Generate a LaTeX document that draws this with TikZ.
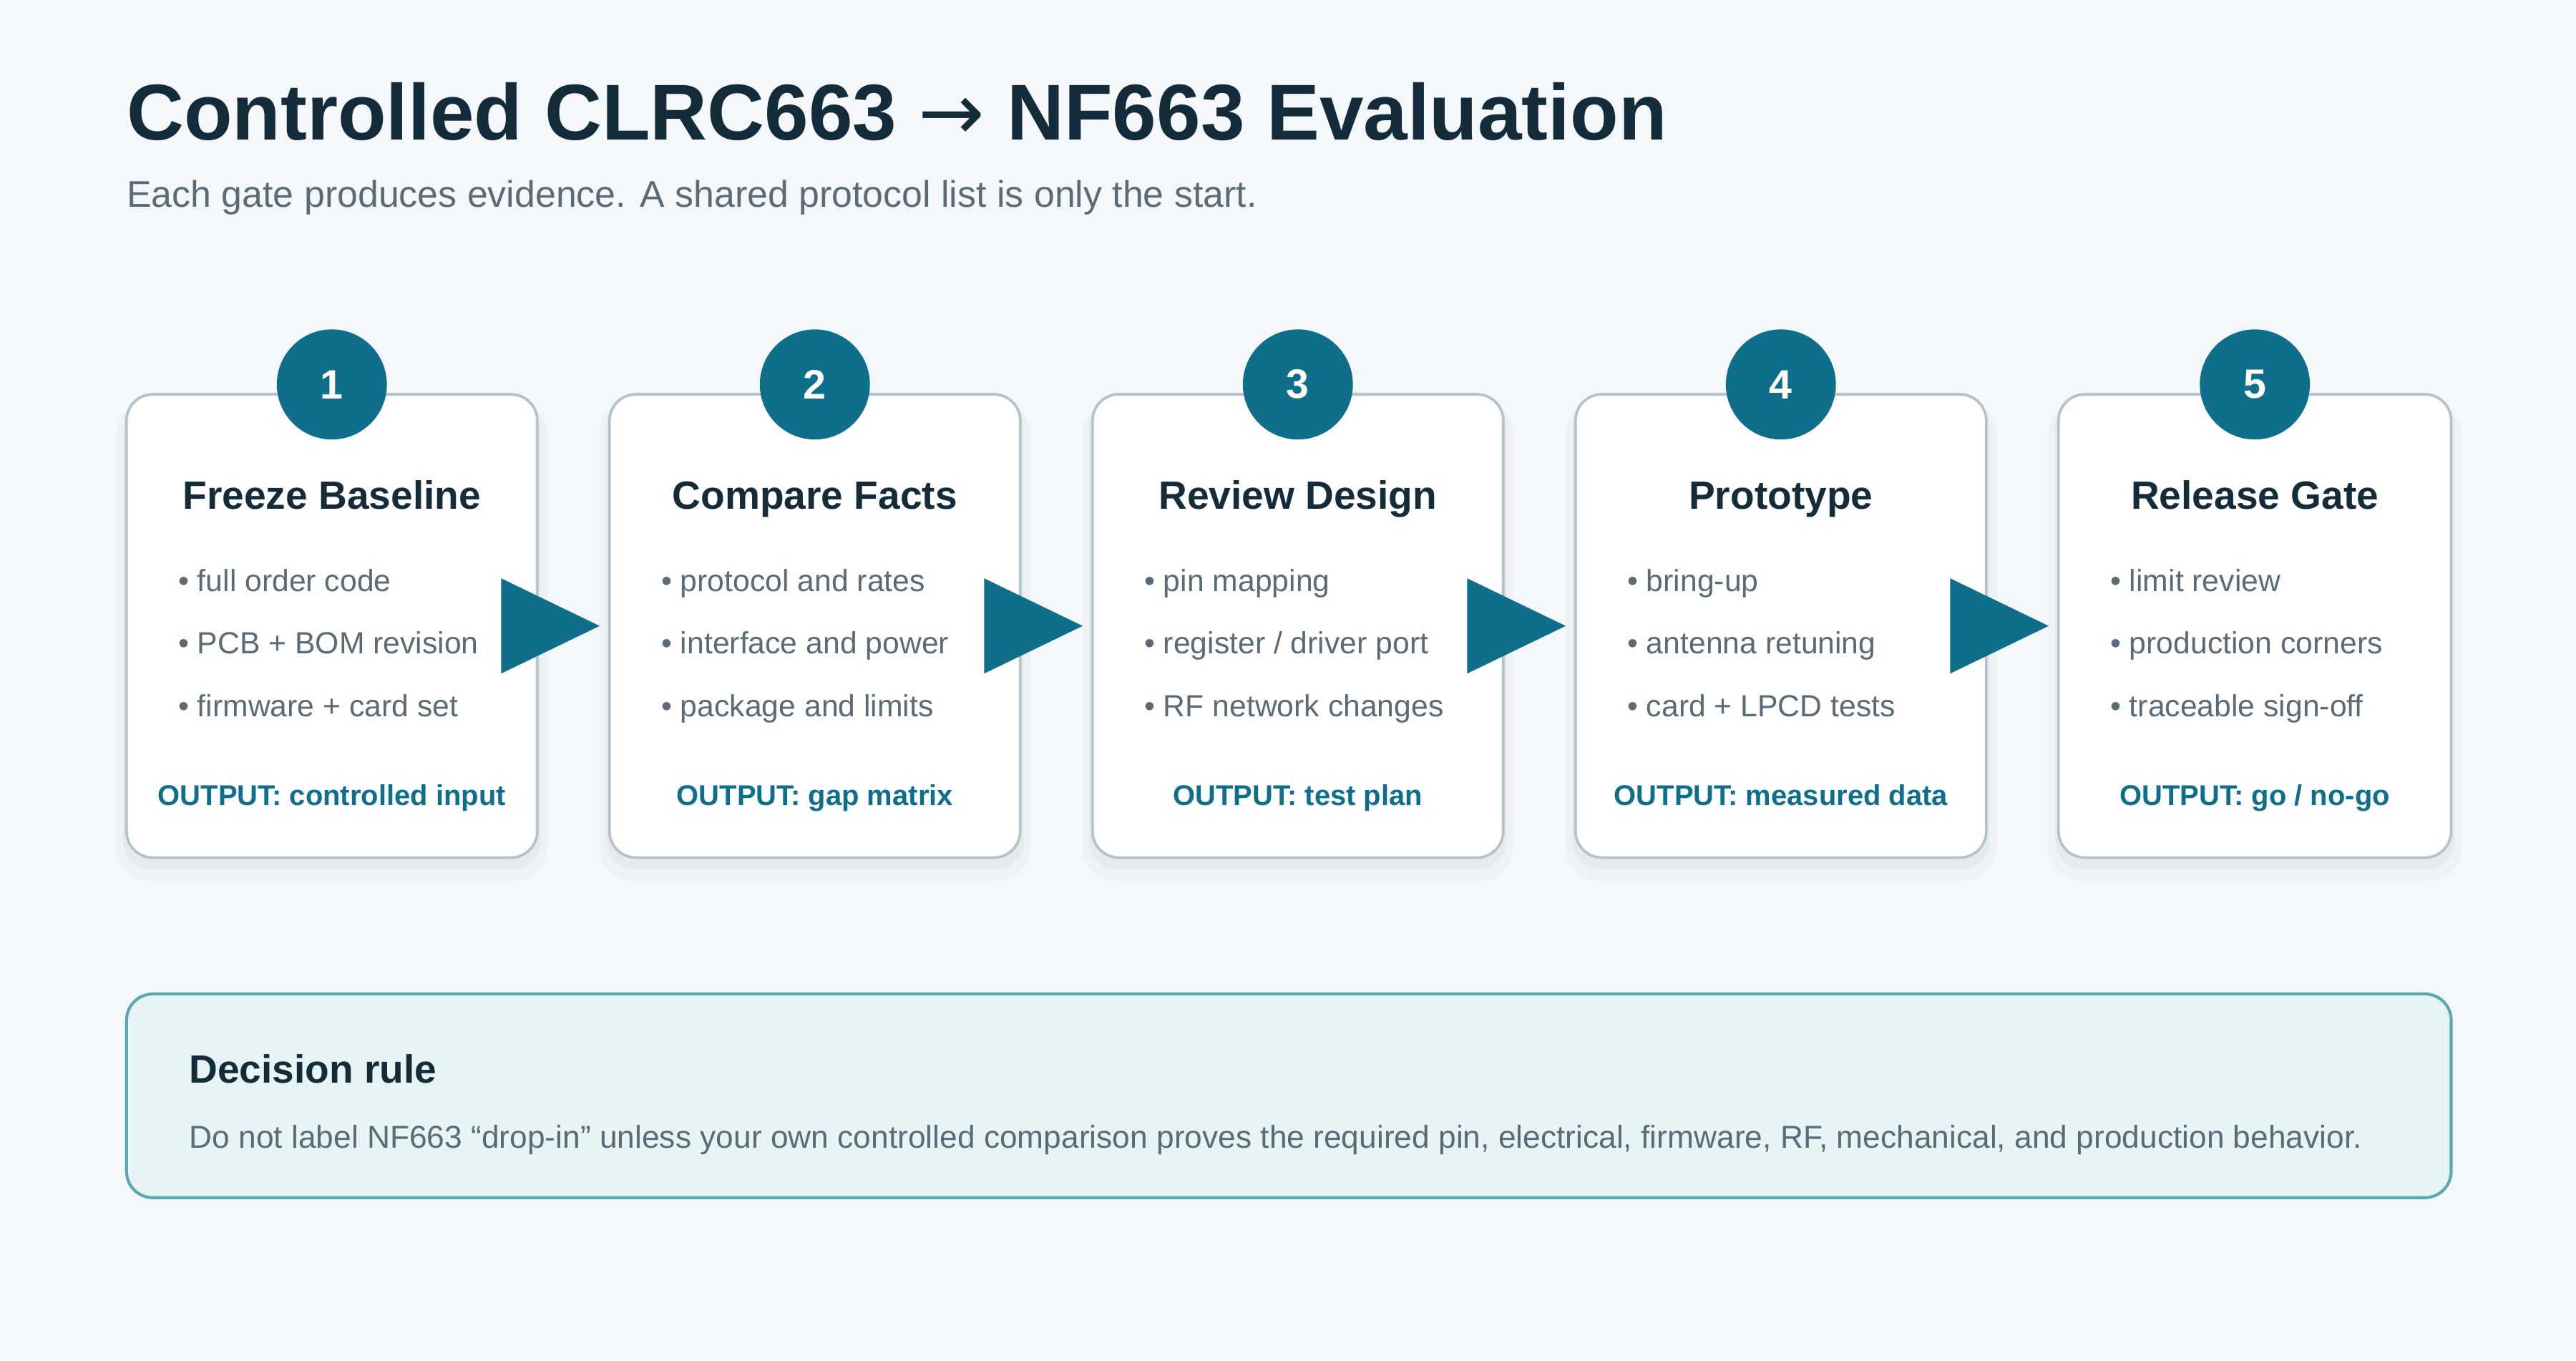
\documentclass[tikz,border=0pt]{standalone}
\usepackage{fontspec}
\setmainfont{Liberation Sans}
\newfontfamily\symf{DejaVu Sans}
\begin{document}
\definecolor{bg}{HTML}{F4F8FB}
\definecolor{ink}{HTML}{142B3A}
\definecolor{sub}{HTML}{5A6B77}
\definecolor{teal}{HTML}{0F6E8A}
\definecolor{cardb}{HTML}{B4C3CB}
\definecolor{boxf}{HTML}{E7F4F5}
\definecolor{boxb}{HTML}{5AA8B4}
\begin{tikzpicture}[x=1pt,y=-1pt,
 card/.style={draw=cardb,line width=1.6pt,fill=white,rounded corners=16pt},
 num/.style={circle,fill=teal,minimum size=67pt,inner sep=0pt,text=white,font=\fontsize{25}{30}\selectfont\bfseries},
 ctitle/.style={anchor=base,text=ink,font=\fontsize{24}{28}\selectfont\bfseries},
 bul/.style={anchor=base west,text=sub,font=\fontsize{18.6}{22}\selectfont},
 outp/.style={anchor=base,text=teal,font=\fontsize{17.4}{20}\selectfont\bfseries},
 arr/.style={fill=teal}]
\fill[bg] (0,0) rectangle (1568,828);
\useasboundingbox (0,0) rectangle (1568,828);
\node[anchor=base west,text=ink,font=\fontsize{48.2}{56}\selectfont\bfseries,inner sep=0] (title) at (77,85) {Controlled CLRC663 {\symf\mdseries→} NF663 Evaluation};
\node[anchor=base west,text=sub,font=\fontsize{22.6}{26}\selectfont,inner sep=0] (subt) at (77,126) {Each gate produces evidence. A shared protocol list is only the start.};
\foreach \i/\x/\w/\t/\a/\b/\c/\o in {
1/77/250/{Freeze Baseline}/{full order code}/{PCB + BOM revision}/{firmware + card set}/{controlled input},
2/371/250/{Compare Facts}/{protocol and rates}/{interface and power}/{package and limits}/{gap matrix},
3/665/250/{Review Design}/{pin mapping}/{register / driver port}/{RF network changes}/{test plan},
4/959/250/{Prototype}/{bring-up}/{antenna retuning}/{card + LPCD tests}/{measured data},
5/1253/239/{Release Gate}/{limit review}/{production corners}/{traceable sign-off}/{go / no-go}}{
 \fill[black,opacity=0.025,rounded corners=20pt] (\x-6,244) rectangle (\x+\w+6,536);
 \fill[black,opacity=0.03,rounded corners=17pt] (\x-2,243) rectangle (\x+\w+2,529);
 \draw[card] (\x,240) rectangle (\x+\w,522);
 \node[num] (n\i) at (\x+\w/2,234) {\i};
 \node[ctitle] (t\i) at (\x+\w/2,310) {\t};
 \node[bul] (ba\i) at (\x+28,360) {\textbullet\ \a};
 \node[bul] (bb\i) at (\x+28,398) {\textbullet\ \b};
 \node[bul] (bc\i) at (\x+28,436) {\textbullet\ \c};
 \node[outp] (o\i) at (\x+\w/2,490) {OUTPUT: \o};
}
\foreach \x in {305,599,893,1187}{
 \fill[arr] (\x,352) -- (\x+60,381) -- (\x,410) -- cycle;
}
\draw[draw=boxb,fill=boxf,line width=1.8pt,rounded corners=16pt] (77,605) rectangle (1492,729);
\node[anchor=base west,text=ink,font=\fontsize{24}{28}\selectfont\bfseries,inner sep=0] (dr) at (115,659) {Decision rule};
\node[anchor=base west,text=sub,font=\fontsize{19.3}{22}\selectfont,inner sep=0] (dt) at (115,699) {Do not label NF663 “drop-in” unless your own controlled comparison proves the required pin, electrical, firmware, RF, mechanical, and production behavior.};
\end{tikzpicture}
\end{document}
